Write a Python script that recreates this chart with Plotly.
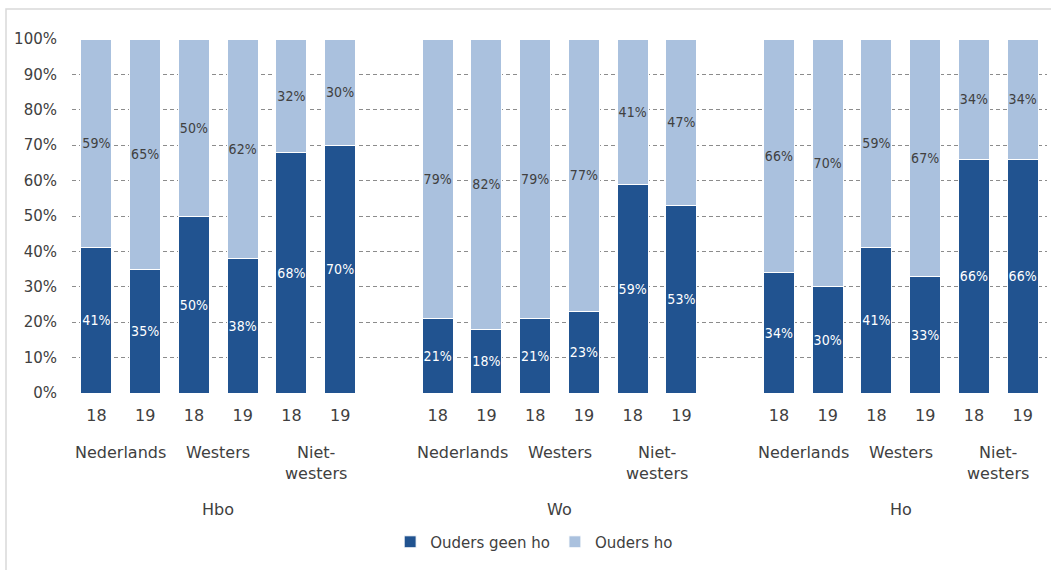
import plotly.graph_objects as go

groups = ["Hbo", "Wo", "Ho"]
subgroups = ["Nederlands", "Westers", "Niet-<br>westers"]
years = ["18", "19"]

geen_ho = [41, 35, 50, 38, 68, 70,
           21, 18, 21, 23, 59, 53,
           34, 30, 41, 33, 66, 66]
ouders_ho = [59, 65, 50, 62, 32, 30,
             79, 82, 79, 77, 41, 47,
             66, 70, 59, 67, 34, 34]

y_ticks = [0, 10, 20, 30, 40, 50, 60, 70, 80, 90, 100]

DARK = "#215390"
LIGHT = "#AAC1DE"
TXT = "#404040"
FONT = "DejaVu Sans"
LBLFONT = "DejaVu Sans Condensed"

# slot positions: each group takes 6 slots, one empty slot between groups
xpos, xlab = [], []
for g in range(len(groups)):
    for s in range(len(subgroups)):
        for y in range(len(years)):
            xpos.append(g * 7 + s * 2 + y)
            xlab.append(years[y])

fig = go.Figure()
fig.add_trace(go.Bar(
    x=xpos, y=geen_ho, name="Ouders geen ho",
    marker=dict(color=DARK, line=dict(color="white", width=1)),
    width=0.64, texttemplate="%{y:.0f}%", textposition="inside",
    insidetextanchor="middle", textangle=0, constraintext="none",
    insidetextfont=dict(color="white", size=14, family=LBLFONT),
))
fig.add_trace(go.Bar(
    x=xpos, y=ouders_ho, name="Ouders ho",
    marker=dict(color=LIGHT, line=dict(color="white", width=1)),
    width=0.64, texttemplate="%{y:.0f}%", textposition="inside",
    insidetextanchor="middle", textangle=0, constraintext="none",
    insidetextfont=dict(color=TXT, size=14, family=LBLFONT),
))

annotations = []
for g, gname in enumerate(groups):
    for s, sname in enumerate(subgroups):
        annotations.append(dict(
            x=g * 7 + s * 2 + 0.5, y=0, xref="x", yref="paper",
            text=sname, showarrow=False, yanchor="top", yshift=-48,
            font=dict(size=16, color=TXT, family=FONT)))
    annotations.append(dict(
        x=g * 7 + 2.5, y=0, xref="x", yref="paper",
        text=gname, showarrow=False, yanchor="middle", yshift=-116,
        font=dict(size=16, color=TXT, family=FONT)))

fig.update_layout(
    width=1051, height=570,
    margin=dict(l=72, r=4, t=39, b=177),
    barmode="stack",
    paper_bgcolor="white", plot_bgcolor="white",
    font=dict(family=FONT, color=TXT, size=15),
    showlegend=True,
    legend=dict(orientation="h", x=0.474, xanchor="center", y=-0.421, yanchor="middle",
                font=dict(size=15, color=TXT, family=FONT), traceorder="normal",
                itemwidth=30),
    xaxis=dict(range=[-0.5, 19.5], tickmode="array", tickvals=xpos, ticktext=xlab,
               showgrid=False, zeroline=False, showline=False, ticks="",
               ticklabelstandoff=11,
               tickfont=dict(size=16, color=TXT, family=FONT)),
    yaxis=dict(range=[0, 100], tickmode="array", tickvals=y_ticks,
               ticktext=[f"{v}%" for v in y_ticks],
               showgrid=True, gridcolor="#8c8c8c", griddash="4px,3px", gridwidth=1,
               zeroline=False, showline=False, ticks="",
               ticklabelstandoff=14,
               tickfont=dict(size=15, color=TXT, family=FONT)),
    annotations=annotations,
    shapes=[dict(type="rect", xref="paper", yref="paper",
                 x0=-0.0677, x1=1.1, y0=-0.7, y1=1.0847,
                 line=dict(color="#d9d9d9", width=1.5), fillcolor="rgba(0,0,0,0)",
                 layer="below")],
)

fig.write_html("out.html", config={"displayModeBar": False},
               post_script="document.body.style.margin='0';")
